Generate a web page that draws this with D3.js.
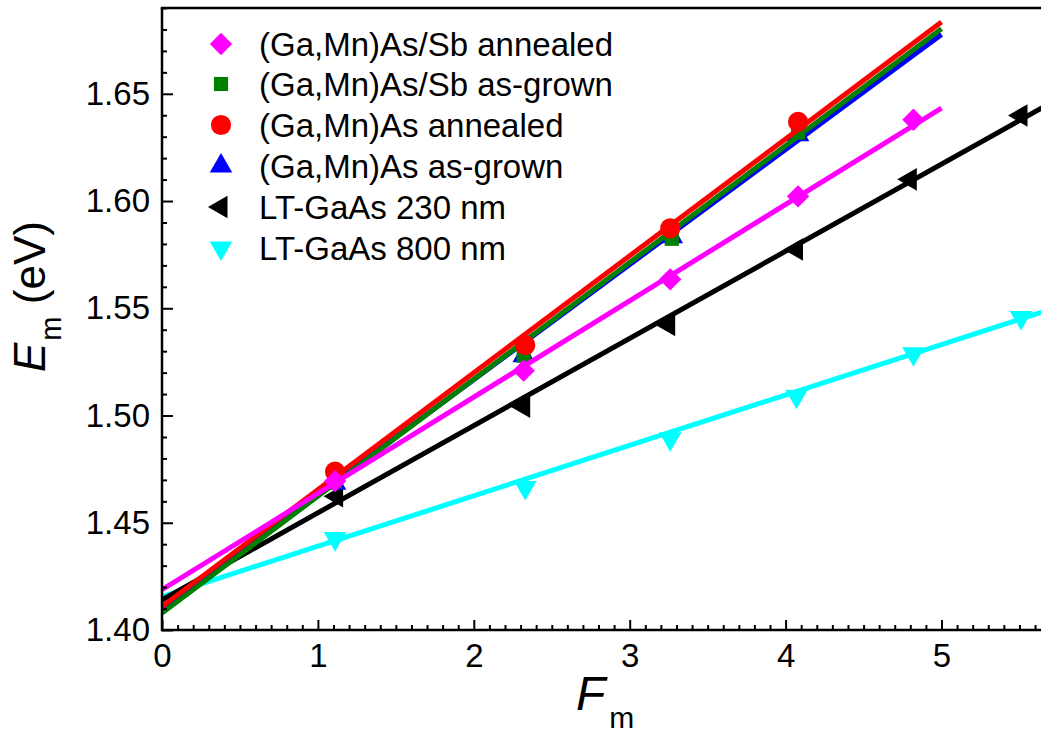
<!DOCTYPE html>
<html>
<head>
  <meta charset="utf-8">
  <script src="https://cdn.jsdelivr.net/npm/d3@7"></script>
  <style>
    body { margin: 0; background: #fff; }
    svg text { font-family: "Liberation Sans", Arial, sans-serif; fill: #000; }
  </style>
</head>
<body>
  <script type="text/javascript">
    // values: F_m (x) and E_m in eV (y)
    var sbAnnealedX = [1.11, 2.32, 3.26, 4.08, 4.82];
    var sbAnnealedY = [1.4694, 1.5209, 1.5635, 1.6022, 1.6379];
    var sbGrownX = [1.11, 2.32, 3.27, 4.08];
    var sbGrownY = [1.4694, 1.5279, 1.5824, 1.6319];
    var asAnnealedX = [1.11, 2.33, 3.26, 4.08];
    var asAnnealedY = [1.4738, 1.5328, 1.5873, 1.6369];
    var asGrownX = [1.11, 2.32, 3.27, 4.08];
    var asGrownY = [1.4684, 1.5279, 1.5834, 1.6309];
    var lt230X = [1.12, 2.32, 3.25, 4.07, 4.80, 5.51];
    var lt230Y = [1.4624, 1.5041, 1.5422, 1.5774, 1.6101, 1.6399];
    var lt800X = [1.11, 2.33, 3.26, 4.07, 4.82, 5.51];
    var lt800Y = [1.4426, 1.4664, 1.4892, 1.5090, 1.5288, 1.5457];

    // linear fit lines, as end points [F_m, E_m]
    var sbAnnealedFit = [[0, 1.4188], [5, 1.6433]];
    var sbGrownFit = [[0, 1.4079], [5, 1.6803]];
    var asAnnealedFit = [[0, 1.4109], [5, 1.6835]];
    var asGrownFit = [[0, 1.4094], [5, 1.6777]];
    var lt230Fit = [[0, 1.4140], [5.7, 1.6457]];
    var lt800Fit = [[0, 1.4156], [5.7, 1.5495]];

    var xTicks = [0, 1, 2, 3, 4, 5];
    var yTicks = [1.40, 1.45, 1.50, 1.55, 1.60, 1.65];

    var seriesNames = ["(Ga,Mn)As/Sb annealed", "(Ga,Mn)As/Sb as-grown", "(Ga,Mn)As annealed",
                       "(Ga,Mn)As as-grown", "LT-GaAs 230 nm", "LT-GaAs 800 nm"];

    var series = [
      {name: seriesNames[0], xs: sbAnnealedX, ys: sbAnnealedY, fit: sbAnnealedFit, color: "#ff00ff", shape: "diamond"},
      {name: seriesNames[1], xs: sbGrownX, ys: sbGrownY, fit: sbGrownFit, color: "#008000", shape: "square"},
      {name: seriesNames[2], xs: asAnnealedX, ys: asAnnealedY, fit: asAnnealedFit, color: "#ff0000", shape: "circle"},
      {name: seriesNames[3], xs: asGrownX, ys: asGrownY, fit: asGrownFit, color: "#0000ff", shape: "up"},
      {name: seriesNames[4], xs: lt230X, ys: lt230Y, fit: lt230Fit, color: "#000000", shape: "left"},
      {name: seriesNames[5], xs: lt800X, ys: lt800Y, fit: lt800Fit, color: "#00ffff", shape: "down"}
    ];
    // drawing order, bottom first
    var drawOrder = [5, 4, 3, 1, 2, 0];

    var W = 1041, H = 735;
    var plotLeft = 162, plotBottom = 630, plotTop = 8;
    var x = d3.scaleLinear().domain([0, 5.7]).range([plotLeft, plotLeft + 5.7 * 155.9]);
    var y = d3.scaleLinear().domain([1.40, 1.69]).range([plotBottom, plotTop]);

    var svg = d3.select("body").append("svg")
      .attr("width", W).attr("height", H);

    svg.append("clipPath").attr("id", "plotclip")
      .append("rect")
        .attr("x", plotLeft).attr("y", plotTop)
        .attr("width", W - plotLeft + 20).attr("height", plotBottom - plotTop);

    function markerPath(shape) {
      var sym;
      if (shape === "diamond") sym = d3.symbol(d3.symbolSquare, 250);
      else if (shape === "square") sym = d3.symbol(d3.symbolSquare, 200);
      else if (shape === "circle") sym = d3.symbol(d3.symbolCircle, 320);
      else sym = d3.symbol(d3.symbolTriangle, 220);
      return sym();
    }
    var rot = {diamond: 45, square: 0, circle: 0, up: 0, left: -90, down: 180};

    var plot = svg.append("g").attr("clip-path", "url(#plotclip)");
    var line = d3.line().x(function(d){ return x(d[0]); }).y(function(d){ return y(d[1]); });

    drawOrder.forEach(function(i) {
      var s = series[i];
      plot.append("path")
        .attr("d", line(s.fit))
        .attr("fill", "none")
        .attr("stroke", s.color)
        .attr("stroke-width", 5);
      plot.selectAll(null)
        .data(d3.range(s.xs.length))
        .enter().append("path")
          .attr("d", markerPath(s.shape))
          .attr("transform", function(j){
            return "translate(" + x(s.xs[j]) + "," + y(s.ys[j]) + ") rotate(" + rot[s.shape] + ")";
          })
          .attr("fill", s.color);
    });

    // axes
    var xMinor = d3.range(0, 57).map(function(k){ return k / 10; }).filter(function(v){ return Math.abs(v - Math.round(v)) > 1e-6; });
    var yMinor = d3.range(140, 170).map(function(k){ return k / 100; }).filter(function(v){ return Math.round(v * 100) % 5 !== 0; });

    var gx = svg.append("g").attr("transform", "translate(0," + plotBottom + ")");
    gx.call(d3.axisBottom(x).tickValues(xTicks).tickSize(-10).tickPadding(14).tickFormat(d3.format("d")));
    gx.append("g").call(d3.axisBottom(x).tickValues(xMinor).tickSize(-5).tickFormat(""));

    var gy = svg.append("g").attr("transform", "translate(" + plotLeft + ",0)");
    gy.call(d3.axisLeft(y).tickValues(yTicks).tickSize(-11).tickPadding(12).tickFormat(d3.format(".2f")));
    gy.append("g").call(d3.axisLeft(y).tickValues(yMinor).tickSize(-5).tickFormat(""));

    svg.selectAll(".domain").remove();
    svg.selectAll(".tick line").attr("stroke", "#000").attr("stroke-width", 2);
    svg.selectAll(".tick text").style("font-size", "33px").style("font-family", "Liberation Sans, Arial, sans-serif");

    // frame
    svg.append("line").attr("x1", plotLeft).attr("x2", W).attr("y1", plotBottom).attr("y2", plotBottom)
      .attr("stroke", "#000").attr("stroke-width", 2.5);
    svg.append("line").attr("x1", plotLeft).attr("x2", plotLeft).attr("y1", plotTop).attr("y2", plotBottom + 1.25)
      .attr("stroke", "#000").attr("stroke-width", 2.5);
    svg.append("line").attr("x1", plotLeft - 1.25).attr("x2", W).attr("y1", plotTop).attr("y2", plotTop)
      .attr("stroke", "#000").attr("stroke-width", 2.5);

    // axis titles
    var xt = svg.append("text").attr("x", 576).attr("y", 710).style("font-size", "48px");
    xt.append("tspan").style("font-style", "italic").text("F");
    xt.append("tspan").attr("dy", 18).attr("dx", 4).style("font-size", "30px").text("m");

    var yt = svg.append("text").attr("transform", "translate(45,372) rotate(-90)").style("font-size", "44px");
    yt.append("tspan").style("font-style", "italic").text("E");
    yt.append("tspan").attr("dy", 16).attr("dx", 2).style("font-size", "29px").text("m");
    yt.append("tspan").attr("dy", -16).text(" (eV)");

    // legend
    var legend = svg.append("g");
    var legendY = [44, 84, 125, 166, 207, 248];
    series.forEach(function(s, i) {
      legend.append("path")
        .attr("d", markerPath(s.shape))
        .attr("transform", "translate(221," + legendY[i] + ") rotate(" + rot[s.shape] + ")")
        .attr("fill", s.color);
      legend.append("text")
        .attr("x", 259).attr("y", legendY[i] + 12)
        .style("font-size", "33px")
        .text(s.name);
    });
  </script>
</body>
</html>
